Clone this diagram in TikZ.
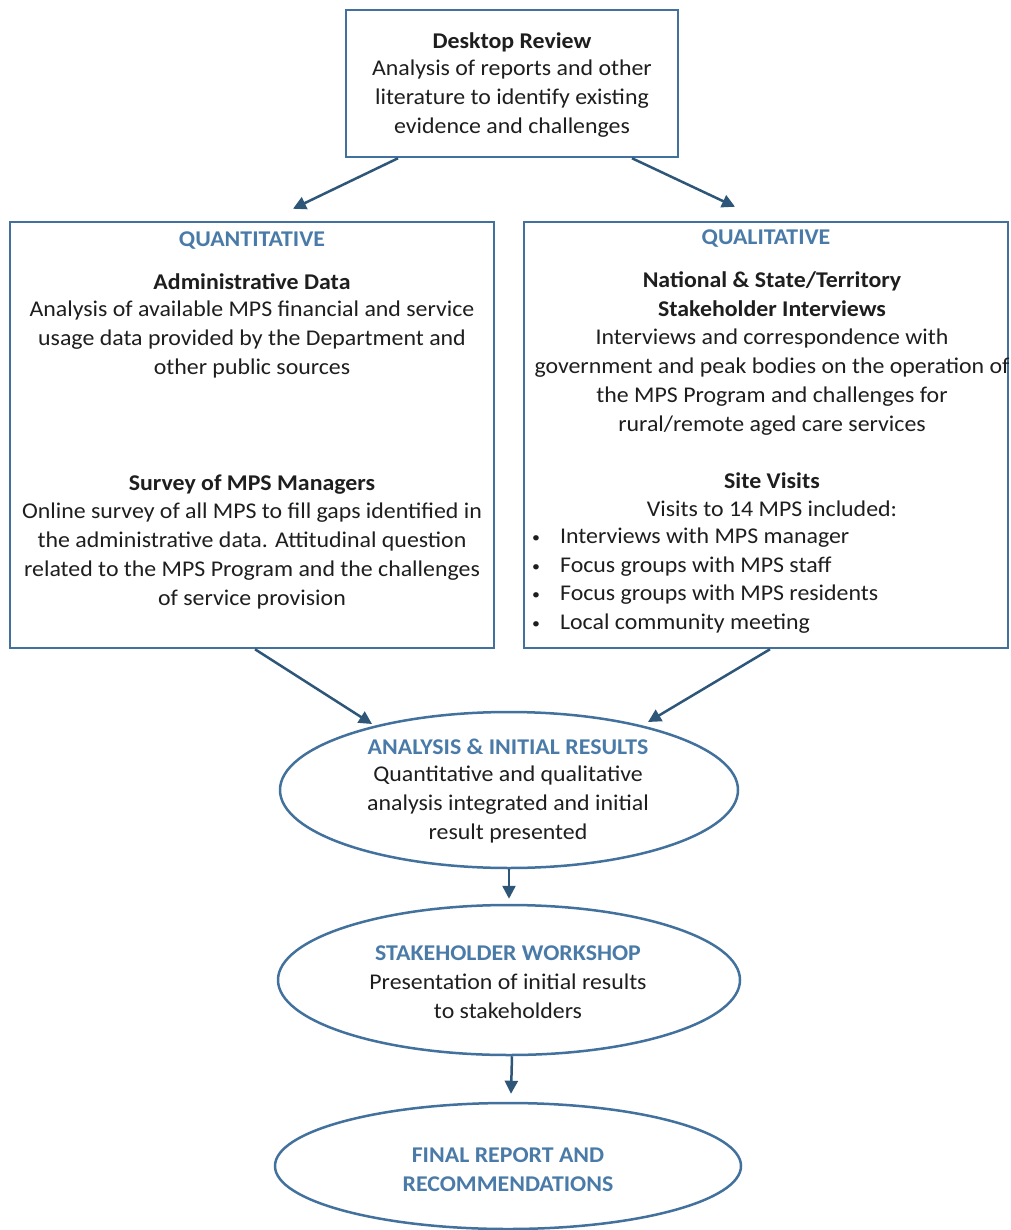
\documentclass[tikz,border=0pt]{standalone}
\usepackage{fontspec}
\setmainfont{Carlito}[FakeStretch=1.06]
\usetikzlibrary{shapes.geometric,arrows.meta}
\definecolor{bordc}{HTML}{41719C}
\definecolor{headc}{HTML}{4A7BA8}
\definecolor{arrc}{HTML}{2E5679}
\definecolor{txtc}{HTML}{1E1E1E}
\tikzset{
  boxst/.style={draw=bordc, line width=2.5pt, rectangle, inner sep=0pt},
  ellst/.style={draw=bordc, line width=2.5pt, ellipse, inner sep=0pt},
  txt/.style={text=txtc, inner sep=0pt, align=center, font=\fontsize{22.5}{29}\selectfont},
  head/.style={text=headc, inner sep=0pt, align=center, font=\fontsize{22.5}{29}\selectfont\bfseries},
  bold/.style={text=txtc, inner sep=0pt, align=center, font=\fontsize{22.5}{29}\selectfont\bfseries},
  arr/.style={draw=arrc, line width=2.5pt, -{Triangle[length=13pt,width=13pt]}},
}
\newcommand{\bul}{{\fontsize{15}{15}\selectfont\raisebox{1pt}{•}}\hspace{20pt}}
\begin{document}
\begin{tikzpicture}[x=1pt,y=-1pt]
\useasboundingbox[fill=white] (0,0) rectangle (1010,1230);
% boxes
\node[boxst, minimum width=332pt, minimum height=147pt] (desk) at (512,83.5) {};
\node[boxst, minimum width=484pt, minimum height=426pt] (quant) at (252,435) {};
\node[boxst, minimum width=484pt, minimum height=426pt] (qual) at (766,435) {};
\node[ellst, minimum width=458pt, minimum height=156pt] (e1) at (509,790) {};
\node[ellst, minimum width=462pt, minimum height=150pt] (e2) at (509,980) {};
\node[ellst, minimum width=466pt, minimum height=126pt] (e3) at (508,1166) {};
% desktop text
\node[bold] (dt1) at (512,42) {Desktop Review};
\node[txt] (dt2) at (512,99) {Analysis of reports and other\\literature to identify  existing\\evidence and challenges};
% quantitative
\node[head] (qh) at (252,241) {QUANTITATIVE};
\node[bold] (qa1) at (252,282) {Administrative Data};
\node[txt] (qa2) at (252,340) {Analysis of available MPS financial and service\\usage data provided by the Department and\\other public sources};
\node[bold] (qs1) at (252,485) {Survey of MPS Managers};
\node[txt] (qs2) at (252,556) {Online survey of all MPS to fill gaps identified in\\the administrative data. Attitudinal question\\related to the MPS Program and the challenges\\of service provision};
% qualitative
\node[head] (lh) at (766,239) {QUALITATIVE};
\node[bold] (ln1) at (772,294.5) {National \& State/Territory\\Stakeholder Interviews};
\node[txt] (ln2) at (772,382) {Interviews and correspondence with\\government and peak bodies on the operation of\\the MPS Program and challenges for\\rural/remote aged care services};
\node[bold] (ls1) at (772,481) {Site Visits};
\node[txt] (ls2) at (772,509) {Visits to 14 MPS included:};
\node[txt, anchor=west] (b1) at (532,538) {\bul Interviews with MPS manager};
\node[txt, anchor=west] (b2) at (532,567) {\bul Focus groups with MPS staff};
\node[txt, anchor=west] (b3) at (532,595) {\bul Focus groups with MPS residents};
\node[txt, anchor=west] (b4) at (532,624) {\bul Local community meeting};
% ellipse texts
\node[head] (e1h) at (508,747) {ANALYSIS \& INITIAL RESULTS};
\node[txt] (e1t) at (508,804) {Quantitative and qualitative\\analysis integrated and initial\\result presented};
\node[head] (e2h) at (508,953) {STAKEHOLDER WORKSHOP};
\node[txt] (e2t) at (508,996) {Presentation of initial results\\to stakeholders};
\node[head] (e3h) at (508,1170) {FINAL REPORT AND\\RECOMMENDATIONS};
% arrows
\draw[arr] ([xshift=-114pt]desk.south) -- ([xshift=41pt,yshift=12pt]quant.north);
\draw[arr] ([xshift=120pt]desk.south) -- ([xshift=-31pt,yshift=14pt]qual.north);
\draw[arr] ([xshift=3pt]quant.south) -- ([xshift=-137pt,yshift=66pt]e1.center);
\draw[arr] ([xshift=4pt]qual.south) -- ([xshift=139pt,yshift=68pt]e1.center);
\draw[arr] (e1.south) -- ([yshift=5pt]e2.north);
\draw[arr] ([xshift=3pt]e2.south) -- ([xshift=3pt,yshift=8pt]e3.north);
\end{tikzpicture}
\end{document}
